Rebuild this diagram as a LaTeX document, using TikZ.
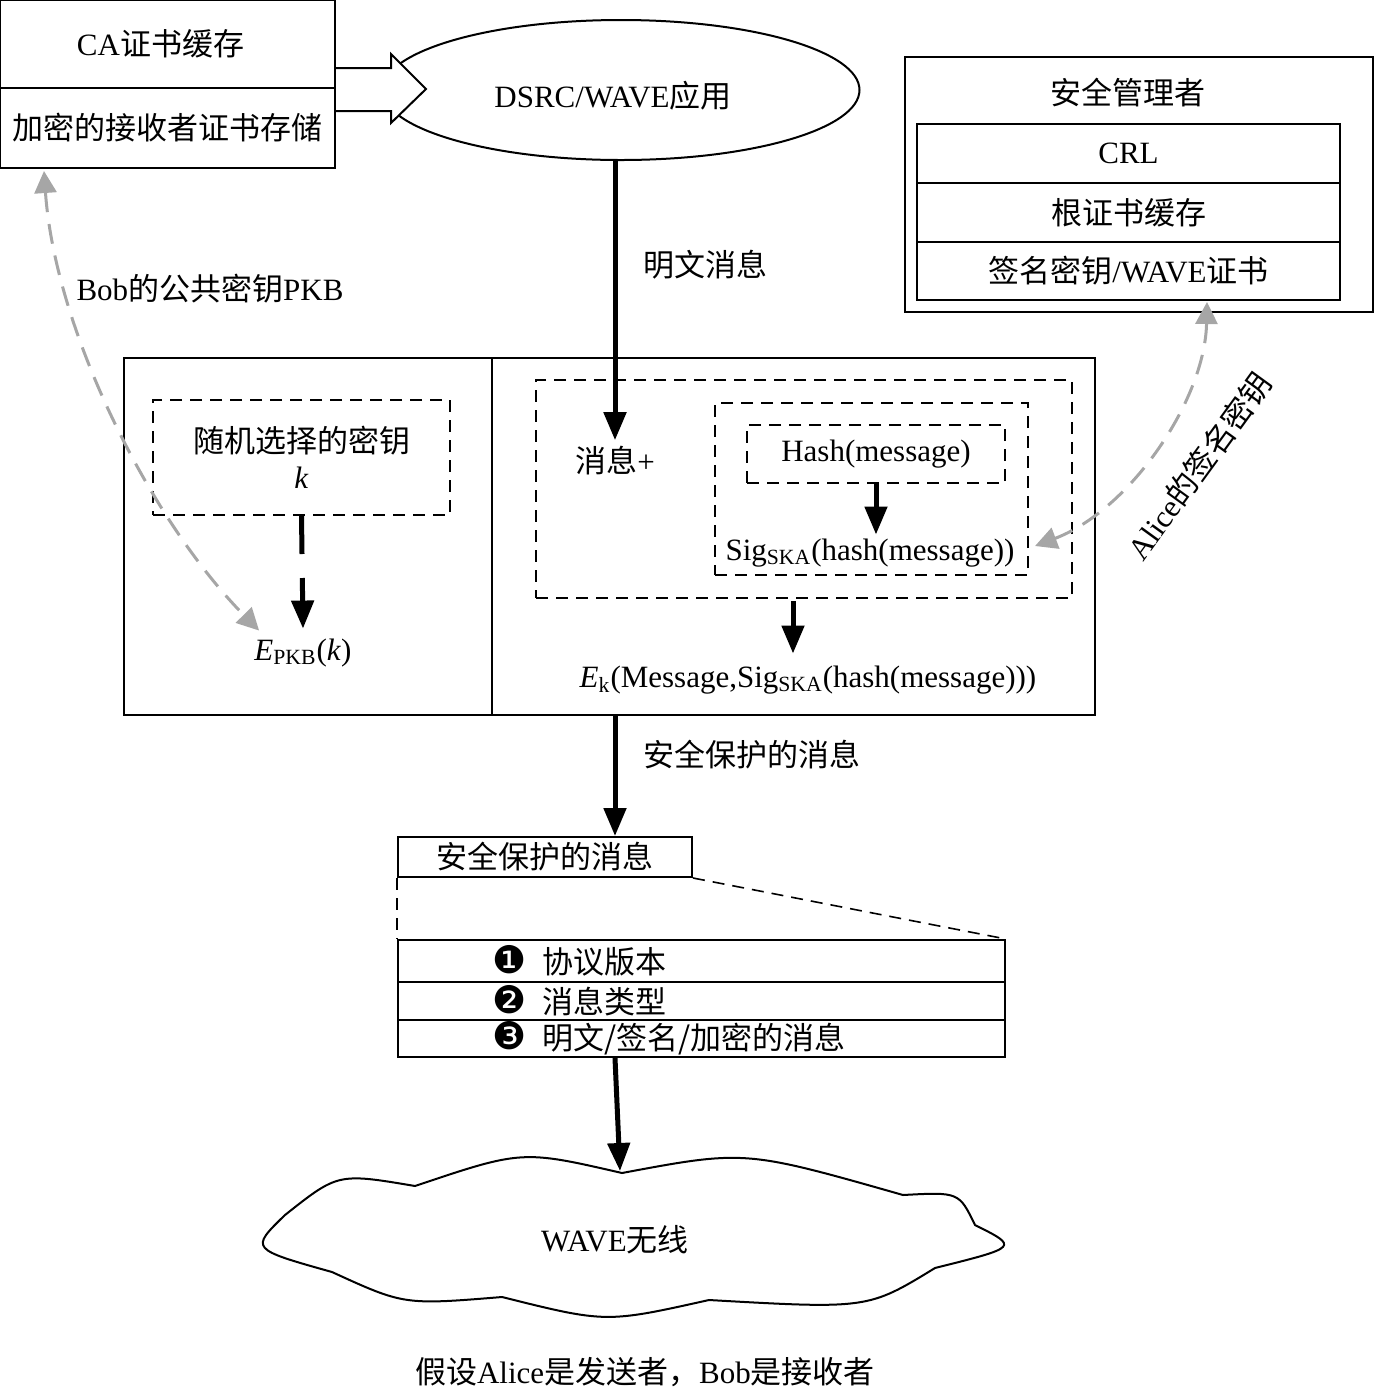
\documentclass[tikz,border=0pt]{standalone}
\usepackage{fontspec}
\setmainfont{Liberation Serif}
\newfontfamily\cjk{Noto Sans CJK SC}
\newfontfamily\symf{DejaVu Sans}
\newcommand{\zh}[1]{{\cjk #1}}
\newcommand{\numdot}[1]{{\symf\fontsize{19}{20}\selectfont #1}}
\usetikzlibrary{shapes,shapes.geometric,arrows.meta,positioning,calc}
\tikzset{
  box/.style={draw,line width=1pt,inner sep=0pt},
  dbox/.style={box,dash pattern=on 6pt off 4pt},
  txt/.style={inner sep=0pt},
  row/.style={box,minimum width=303.5pt,text width=303.5pt,align=left},
  arr/.style={-{Triangle[length=14pt,width=11pt]},line width=2.5pt},
  darr/.style={arr,dash pattern=on 19pt off 12pt},
  garr/.style={{Triangle[length=11pt,width=11pt]}-{Triangle[length=11pt,width=11pt]},
               black!35,line width=1.5pt,dash pattern=on 10pt off 6pt},
  cut/.style={line width=0.8pt,dash pattern=on 6pt off 4pt},
}

\begin{document}
\begin{tikzpicture}[x=0.5pt,y=-0.5pt,font=\fontsize{15.5}{20}\selectfont]
  \useasboundingbox (0,0) rectangle (1375,1388);

  \node[box,minimum width=167.5pt,minimum height=44pt] (ca) at (167.5,44) {CA\zh{证书缓存}\hspace*{7pt}};
  \node[box,minimum width=167.5pt,minimum height=40pt] (store) at (167.5,128) {\zh{加密的接收者证书存储}};
  \node[ellipse,box,minimum width=238.5pt,minimum height=70pt] (app) at (621,90)
    {\raisebox{-8.5pt}[0pt][0pt]{DSRC/WAVE\zh{应用}}\hspace*{8pt}};
  \draw[line width=1pt,fill=white] ([shift={(0,-21)}]ca.south east) -- ++(55,0) -- ++(0,-14)
    -- ++(35,35) -- ++(-35,34) -- ++(0,-12) -- ([shift={(0,22)}]ca.south east);

  \node[box,minimum width=234pt,minimum height=127.5pt] (mgr) at (1139,184.5) {};
  \node[txt] (mgrt) at (1128,93) {\zh{安全管理者}};
  \node[box,minimum width=211.5pt,minimum height=29.5pt] (crl) at (1128.5,153.5) {CRL};
  \node[box,minimum width=211.5pt,minimum height=29.5pt] (root) at (1128.5,212.5) {\zh{根证书缓存}};
  \node[box,minimum width=211.5pt,minimum height=29pt] (skey) at (1128.5,271) {\zh{签名密钥}/WAVE\zh{证书}};

  \node[txt] (bobkey) at (210,289) {Bob\zh{的公共密钥}PKB};
  \node[txt] (plain) at (705,265) {\zh{明文消息}};

  \node[box,minimum width=184pt,minimum height=178.5pt] (enc) at (308,536.5) {};
  \node[box,minimum width=301.5pt,minimum height=178.5pt] (sig) at (793.5,536.5) {};

  \node[dbox,minimum width=148.5pt,minimum height=57.5pt,align=center] (keybox) at (301.5,457.5)
    {\zh{随机选择的密钥}\\[-2pt]\textit{k}};
  \node[txt] (epkb) at (303,653) {\textit{E}\textsubscript{PKB}(\textit{k})};

  \node[dbox,minimum width=268pt,minimum height=109pt] (msgbox) at (804,489) {};
  \node[dbox,minimum width=156.5pt,minimum height=86pt] (sigbox) at (871.5,489) {};
  \node[dbox,minimum width=129pt,minimum height=29pt] (hashbox) at (876,454) {Hash(message)};
  \node[txt] (plus) at (615,461) {\zh{消息}+};
  \node[txt] (sigtxt) at (870,553) {Sig\textsubscript{SKA}(hash(message))};
  \node[txt] (ek) at (808,680) {\textit{E}\textsubscript{k}(Message,Sig\textsubscript{SKA}(hash(message)))};

  \node[txt] (prot) at (752,755) {\zh{安全保护的消息}};
  \node[box,minimum width=147pt,minimum height=20pt] (pkt) at (545,857) {\zh{安全保护的消息}};
  \node[row,minimum height=21pt] (f1) at (701.5,961)
    {\hspace*{47pt}\numdot{❶}\hspace{8pt}\zh{协议版本}};
  \node[row,minimum height=19pt] (f2) at (701.5,1001)
    {\hspace*{47pt}\numdot{❷}\hspace{8pt}\zh{消息类型}};
  \node[row,minimum height=18.5pt] (f3) at (701.5,1038.5)
    {\hspace*{47pt}\numdot{❸}\hspace{8pt}\zh{明文/签名/加密的消息}};
  \draw[cut] (pkt.south west) -- (f1.north west);
  \draw[cut] (pkt.south east) -- (f1.north east);

  \draw[line width=1pt] (285,1215) .. controls (338,1173) .. (415,1186)
    .. controls (522,1150) .. (622,1173) coordinate (wtop)
    .. controls (745,1150) .. (903,1195) .. controls (959,1192) .. (975,1225)
    .. controls (1019,1247) .. (935,1268) .. controls (868,1309) .. (709,1300)
    .. controls (606,1323) .. (502,1297) .. controls (404,1305) .. (332,1272)
    .. controls (250,1249) .. cycle;
  \node[txt] (wave) at (615,1240) {WAVE\zh{无线}};
  \node[txt] (note) at (645,1372) {\zh{假设}Alice\zh{是发送者，}Bob\zh{是接收者}};

  \coordinate (ax) at (615,0);
  \draw[arr] (app.south -| plus.north) -- ([yshift=3pt]plus.north);
  \draw[darr] (keybox.south) -- ([yshift=5pt]epkb.north);
  \draw[arr] (hashbox.south) -- ([yshift=2pt]hashbox.south |- sigtxt.north);
  \draw[arr] ([shift={(-11,2)}]msgbox.south) -- ([shift={(-15,-12)}]ek.north);
  \draw[arr] (sig.south -| ax) -- (pkt.north -| ax);
  \draw[arr] (f3.south -| ax) -- ([shift={(-2,-2)}]wtop);

  \draw[garr] ([shift={(45,2)}]store.south west) .. controls (55,330) and (150,520) .. ([shift={(5,-8)}]epkb.north west);
  \draw[garr] ([shift={(78.5,1)}]skey.south) .. controls (1205,400) and (1130,510) .. ([shift={(6,-30)}]sigbox.south east);
  \node[txt,rotate=54] (alice) at (1199,466) {Alice\zh{的签名密钥}};
\end{tikzpicture}
\end{document}
